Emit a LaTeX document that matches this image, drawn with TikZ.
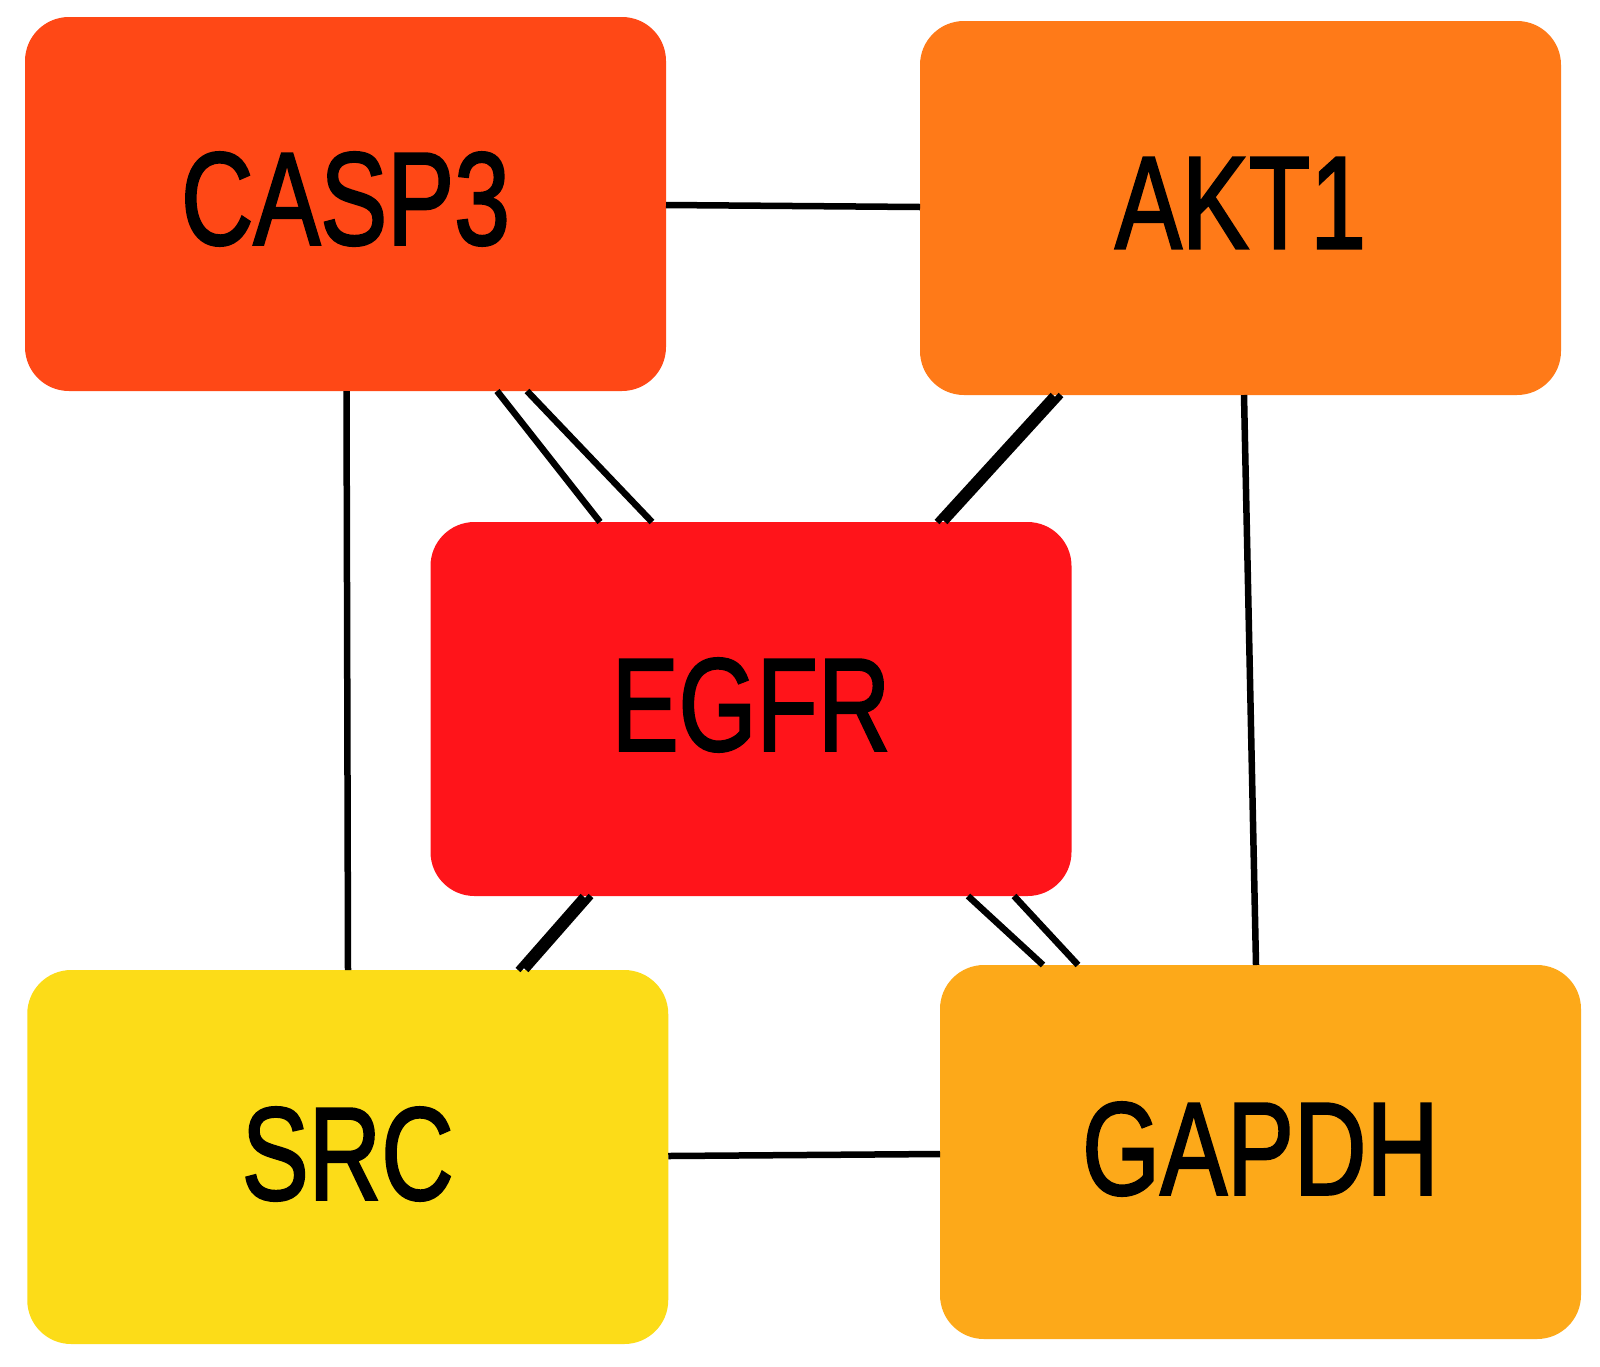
\documentclass[tikz,border=0pt]{standalone}
\usepackage{fontspec}
\setmainfont{Liberation Sans}
\newfontfamily\genefont{Liberation Sans}[FakeBold=2]
\usetikzlibrary{calc}
\definecolor{caspcol}{RGB}{255,72,22}
\definecolor{aktcol}{RGB}{255,122,24}
\definecolor{egfrcol}{RGB}{255,20,26}
\definecolor{srccol}{RGB}{252,220,24}
\definecolor{gapcol}{RGB}{253,169,25}
\tikzset{
  gene/.style={rectangle, rounded corners=44pt, inner sep=0pt, outer sep=0pt,
    minimum width=641pt, minimum height=374pt, draw=none},
  genelabel/.style={inner sep=0pt, outer sep=0pt, font=\genefont\fontsize{132}{132}\selectfont},
  edge/.style={draw=black, line width=6.5pt},
}
\newcommand{\glab}[1]{\scalebox{0.76}[1]{#1}}
\begin{document}
\begin{tikzpicture}[x=1pt,y=-1pt]
\fill[white] (0,0) rectangle (1600,1366);
\useasboundingbox (0,0) rectangle (1600,1366);

\node[gene, fill=caspcol] (casp) at (345.5,204) {};
\node[gene, fill=aktcol] (akt) at (1240.5,208) {};
\node[gene, fill=egfrcol] (egfr) at (751,709) {};
\node[gene, fill=srccol] (src) at (347.75,1157) {};
\node[gene, fill=gapcol] (gap) at (1260.5,1152) {};

\draw[edge] ($(casp.east)+(0,1)$) -- ($(akt.west)+(0,-1)$);
\draw[edge] ($(casp.south)+(1,0)$) -- ($(src.north)+(0.25,0)$);
\draw[edge] ($(akt.south)+(3.5,0)$) -- ($(gap.north)+(-4.5,0)$);
\draw[edge] ($(src.east)+(0,-1)$) -- ($(gap.west)+(0,2)$);

\draw[edge] ($(casp.south)+(151.5,0)$) -- ($(egfr.north)+(-151,0)$);
\draw[edge] ($(casp.south)+(181.5,0)$) -- ($(egfr.north)+(-99,0)$);

\draw[edge] ($(akt.south)+(-187.5,0)$) -- ($(egfr.north)+(186,0)$);
\draw[edge] ($(akt.south)+(-179.5,0)$) -- ($(egfr.north)+(194,0)$);

\draw[edge] ($(egfr.south)+(-168,0)$) -- ($(src.north)+(170.25,0)$);
\draw[edge] ($(egfr.south)+(-160,0)$) -- ($(src.north)+(178.25,0)$);

\draw[edge] ($(egfr.south)+(217,0)$) -- ($(gap.north)+(-217.5,0)$);
\draw[edge] ($(egfr.south)+(263,0)$) -- ($(gap.north)+(-182.5,0)$);

\node[genelabel] (tcasp) at ($(casp.center)+(0,-5)$) {\glab{CASP3}};
\node[genelabel] (takt) at ($(akt.center)+(0,-5)$) {\glab{AKT1}};
\node[genelabel] (tegfr) at ($(egfr.center)+(0,-4)$) {\glab{EGFR}};
\node[genelabel] (tsrc) at ($(src.center)+(0,-3)$) {\glab{SRC}};
\node[genelabel] (tgap) at ($(gap.center)+(0,-3)$) {\glab{GAPDH}};
\end{tikzpicture}
\end{document}
